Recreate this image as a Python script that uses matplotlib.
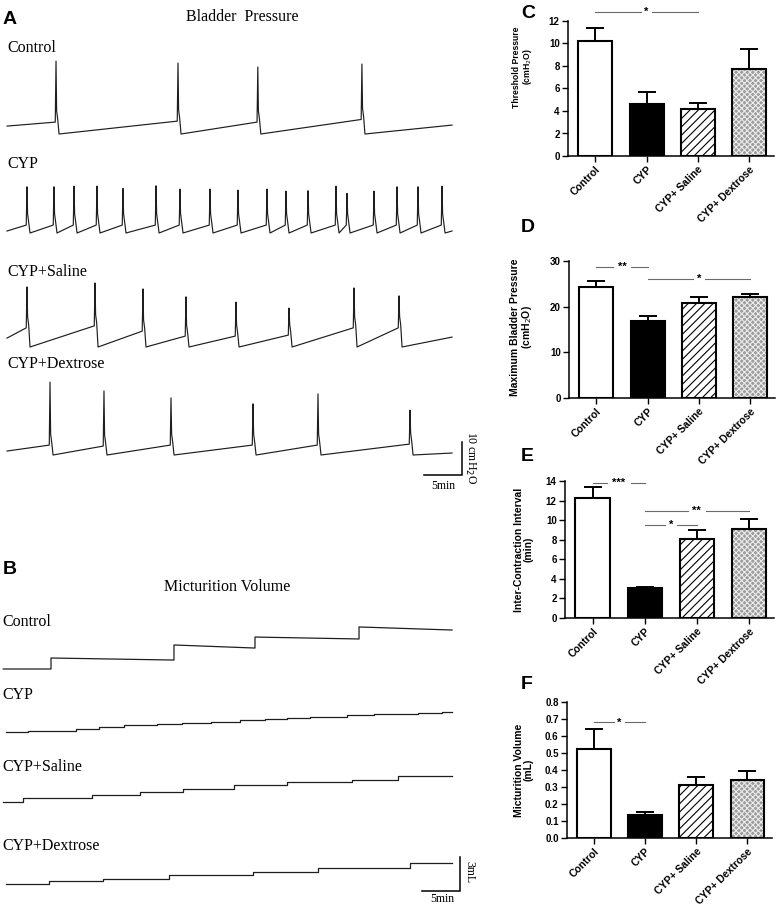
import numpy as np
import matplotlib.pyplot as plt

plt.rcParams['font.family'] = ['Liberation Sans', 'DejaVu Sans']
plt.rcParams['hatch.linewidth'] = 0.8

# ---------------- data ----------------
# Panel A: bladder pressure traces (times in min, pressures in cmH2O above post-void baseline)
ctrl_spikes = [6.45, 22.5, 33.0, 46.7]
ctrl_peaks = [22.1, 21.5, 20.3, 21.2]
ctrl_pre = [3.0, 3.3, 3.0, 3.8]

cyp_spikes = [2.63, 6.18, 8.82, 11.84, 15.26, 19.61, 22.76, 26.71, 30.39,
              34.21, 36.71, 39.61, 43.29, 44.74, 48.29, 51.32, 54.08, 57.24]
cyp_peaks = [14.0, 14.0, 14.2, 14.2, 13.5, 14.3, 13.3, 13.3, 13.0,
             13.3, 12.7, 12.8, 14.2, 12.0, 12.7, 14.0, 14.0, 14.2]
cyp_pre = [1.8] * 18

sal_spikes = [2.63, 11.58, 17.89, 23.55, 30.13, 37.11, 45.66, 51.58]
sal_peaks = [18.2, 19.4, 17.6, 15.2, 13.6, 11.8, 17.9, 15.5]
sal_pre = [5.2, 5.8, 4.2, 2.7, 2.7, 3.0, 5.2, 5.2]

dex_spikes = [5.66, 12.76, 21.58, 32.37, 40.92, 53.03]
dex_peaks = [22.1, 19.4, 17.3, 15.5, 18.5, 13.6]
dex_pre = [2.4, 2.1, 2.4, 2.4, 2.4, 2.7]

# Panel B: micturition volume traces (step times in min, levels in mL)
ctrl_steps = [5.79, 21.97, 32.63, 46.32]
ctrl_lvl_start = [0.0, 0.97, 2.12, 2.82, 3.71]
ctrl_lvl_end = [0.0, 0.79, 1.85, 2.65, 3.44]

cyp_steps = [2.76, 9.08, 12.11, 15.39, 19.74, 23.03, 26.84, 30.66, 33.95,
             36.84, 39.87, 44.74, 48.29, 54.08, 57.24]
cyp_lvl = [0.0, 0.12, 0.26, 0.44, 0.59, 0.74, 0.82, 0.91, 1.03, 1.15,
           1.24, 1.32, 1.47, 1.56, 1.68, 1.79]

sal_steps = [2.11, 11.18, 17.5, 23.16, 29.87, 36.84, 45.39, 51.45]
sal_lvl = [0.0, 0.35, 0.59, 0.88, 1.18, 1.47, 1.76, 1.97, 2.26]

dex_steps = [5.53, 12.63, 21.32, 32.37, 40.92, 53.03]
dex_lvl = [0.0, 0.26, 0.44, 0.76, 1.09, 1.38, 1.88]

# Panels C-F: group means and SEM
groups = ["Control", "CYP", "CYP+ Saline", "CYP+ Dextrose"]
threshold_mean = [10.2, 4.65, 4.18, 7.73]
threshold_sem = [1.2, 1.05, 0.5, 1.75]
maxp_mean = [24.4, 16.9, 20.7, 22.05]
maxp_sem = [1.3, 1.1, 1.4, 0.75]
ici_mean = [12.23, 3.1, 8.04, 9.13]
ici_sem = [1.12, 0.1, 0.99, 1.02]
vol_mean = [0.522, 0.133, 0.312, 0.339]
vol_sem = [0.121, 0.018, 0.047, 0.057]

# ---------------- figure ----------------
W, H = 782, 913
fig = plt.figure(figsize=(W / 100, H / 100), dpi=100)


def fx(px):
    return px / W


def fy(py):
    return 1 - py / H


PX_MIN = 7.6      # px per minute
PX_CM = 3.3       # px per cmH2O
PX_ML = 11.33     # px per mL
serif = ['Liberation Serif', 'DejaVu Serif']
trace_col = '#1e1e1e'


def pressure_trace(spikes, peaks, pre, start, end, t0, t1):
    xs, ys = [t0], [start]
    for t, p, b in zip(spikes, peaks, pre):
        xs += [t - 0.1, t, t + 0.08, t + 0.22, t + 0.4]
        ys += [b + 0.6, p, b + 4.0, b + 1.5, 0.0]
    xs.append(t1)
    ys.append(end)
    return np.array(xs), np.array(ys)


def volume_trace(steps, lvl_start, lvl_end, t0, t1):
    edges = [t0] + list(steps) + [t1]
    xs, ys = [], []
    for i in range(len(lvl_start)):
        xs += [edges[i], edges[i + 1]]
        ys += [lvl_start[i], lvl_end[i]]
    return np.array(xs), np.array(ys)


# ---- Panel A ----
axA = fig.add_axes([0, fy(500), 500 / W, 500 / H])
axA.set_xlim(-7 / PX_MIN, 493 / PX_MIN)
axA.set_ylim(0, 500 / PX_CM)
axA.axis('off')

t_end = 445 / PX_MIN
a_traces = [
    (ctrl_spikes, ctrl_peaks, ctrl_pre, 2.4, 2.7, 134),
    (cyp_spikes, cyp_peaks, cyp_pre, 0.6, 0.6, 233),
    (sal_spikes, sal_peaks, sal_pre, 2.7, 3.0, 347),
    (dex_spikes, dex_peaks, dex_pre, 1.2, 0.6, 455),
]
for sp, pk, pr, st, en, row in a_traces:
    x, y = pressure_trace(sp, pk, pr, st, en, 0, t_end)
    axA.plot(x, y + (500 - row) / PX_CM, color=trace_col, lw=0.85)

# scale bar 10 cmH2O / 5 min
xb = (462 - 7) / PX_MIN
yb = (500 - 475) / PX_CM
axA.plot([xb - 5, xb, xb], [yb, yb, yb + 10], color='black', lw=1.1,
         clip_on=False, solid_joinstyle='miter')

fig.text(fx(3), fy(20), "A", fontsize=14, fontweight='bold', va='center')
fig.text(fx(242), fy(17), "Bladder  Pressure", family=serif, fontsize=11.5,
         ha='center', va='center')
for lab, py in [("Control", 48), ("CYP", 164), ("CYP+Saline", 272), ("CYP+Dextrose", 364)]:
    fig.text(fx(7), fy(py), lab, family=serif, fontsize=11.5, va='center')
fig.text(fx(470), fy(458), "10 cmH$_2$O", family=serif, fontsize=8.5, rotation=270,
         ha='center', va='center')
fig.text(fx(443), fy(486), "5min", family=serif, fontsize=8.5, ha='center', va='center')

# ---- Panel B ----
axB = fig.add_axes([0, 0, 500 / W, 413 / H])
axB.set_xlim(-7 / PX_MIN, 493 / PX_MIN)
axB.set_ylim(0, 413 / PX_ML)
axB.axis('off')

b_traces = [
    (ctrl_steps, ctrl_lvl_start, ctrl_lvl_end, -0.5, 669),
    (cyp_steps, cyp_lvl, cyp_lvl, -0.1, 732),
    (sal_steps, sal_lvl, sal_lvl, -0.5, 802),
    (dex_steps, dex_lvl, dex_lvl, -0.1, 884),
]
for st, l1, l2, t0, row in b_traces:
    x, y = volume_trace(st, l1, l2, t0, t_end)
    axB.plot(x, y + (913 - row) / PX_ML, color=trace_col, lw=0.9)

xb = (460 - 7) / PX_MIN
yb = (913 - 891) / PX_ML
axB.plot([xb - 5, xb, xb], [yb, yb, yb + 3], color='black', lw=1.1,
         clip_on=False, solid_joinstyle='miter')

fig.text(fx(3), fy(570), "B", fontsize=14, fontweight='bold', va='center')
fig.text(fx(227), fy(587), "Micturition Volume", family=serif, fontsize=11.5,
         ha='center', va='center')
for lab, py in [("Control", 622), ("CYP", 695), ("CYP+Saline", 767), ("CYP+Dextrose", 846)]:
    fig.text(fx(2), fy(py), lab, family=serif, fontsize=11.5, va='center')
fig.text(fx(469), fy(872), "3mL", family=serif, fontsize=8.5, rotation=270,
         ha='center', va='center')
fig.text(fx(442), fy(899), "5min", family=serif, fontsize=8.5, ha='center', va='center')

# ---- Panels C-F ----
faces = ['white', 'black', 'white', '#9c9c9c']
hatches = [None, None, '////', 'xxxxxx']
hatch_cols = [None, None, 'black', '#ececec']


def bar_panel(box, letter, letter_y, means, sems, ticks, ylabel, lab_size, lab_y, sigs, fmt=None):
    L, R, T, B = box
    ax = fig.add_axes([fx(L), fy(B), (R - L) / W, (B - T) / H])
    x = np.arange(len(groups))
    for i in range(len(groups)):
        if hatches[i]:
            ax.bar(x[i], means[i], 0.66, color=faces[i], edgecolor=hatch_cols[i],
                   hatch=hatches[i], linewidth=0, zorder=2)
            ax.bar(x[i], means[i], 0.66, facecolor='none', edgecolor='black',
                   linewidth=1.5, zorder=3)
        else:
            ax.bar(x[i], means[i], 0.66, color=faces[i], edgecolor='black',
                   linewidth=1.5, zorder=3)
    ax.errorbar(x, means, yerr=[np.zeros(len(sems)), sems], fmt='none',
                ecolor='black', elinewidth=1.4, capsize=6.5, capthick=1.4, zorder=4)
    ax.set_xlim(-0.53, 3.48)
    ax.set_ylim(0, ticks[-1])
    ax.set_yticks(ticks)
    if fmt:
        ax.set_yticklabels([fmt % t for t in ticks])
    ax.set_xticks(x)
    ax.set_xticklabels(groups, rotation=45, ha='right', rotation_mode='anchor')
    ax.spines[['top', 'right']].set_visible(False)
    ax.spines[['left', 'bottom']].set_linewidth(1.1)
    ax.tick_params(direction='out', length=4, width=1, pad=2)
    ax.tick_params(axis='x', labelsize=7.5)
    ax.tick_params(axis='y', labelsize=7)
    for lbl in ax.get_xticklabels() + ax.get_yticklabels():
        lbl.set_fontweight('bold')
    ax.set_ylabel(ylabel, fontsize=lab_size, fontweight='bold', linespacing=1.0)
    ax.yaxis.set_label_coords((534 - L) / (R - L), lab_y)
    for a, b, yv, s in sigs:
        mid = (a + b) / 2
        g = 0.05 + 0.06 * len(s)
        ax.plot([a, mid - g], [yv, yv], color='#6a6a6a', lw=0.8, clip_on=False)
        ax.plot([mid + g, b], [yv, yv], color='#6a6a6a', lw=0.8, clip_on=False)
        ax.text(mid, yv, s, ha='center', va='center', fontsize=8, fontweight='bold',
                clip_on=False)
    fig.text(fx(521), fy(letter_y), letter, fontsize=14, fontweight='bold', va='center')
    return ax


bar_panel((568, 774, 21, 156), "C", 14, threshold_mean, threshold_sem,
          [0, 2, 4, 6, 8, 10, 12], "Threshold Pressure\n(cmH$_2$O)", 6.2, 0.66,
          [(0, 2, 12.77, "*")])
bar_panel((569, 775, 261, 398), "D", 227, maxp_mean, maxp_sem,
          [0, 10, 20, 30], "Maximum Bladder Pressure\n(cmH$_2$O)", 7.5, 0.52,
          [(0, 1, 28.7, "**"), (1, 3, 26.1, "*")])
bar_panel((565, 774, 481, 618), "E", 456, ici_mean, ici_sem,
          [0, 2, 4, 6, 8, 10, 12, 14], "Inter-Contraction Interval\n(min)", 7.5, 0.5,
          [(0, 1, 13.8, "***"), (1, 3, 10.93, "**"), (1, 2, 9.5, "*")])
bar_panel((567, 772, 702, 838), "F", 684, vol_mean, vol_sem,
          [0, 0.1, 0.2, 0.3, 0.4, 0.5, 0.6, 0.7, 0.8], "Micturition Volume\n(mL)", 7.5, 0.5,
          [(0, 1, 0.68, "*")], fmt="%.1f")

fig.savefig("out.png", dpi=100)
